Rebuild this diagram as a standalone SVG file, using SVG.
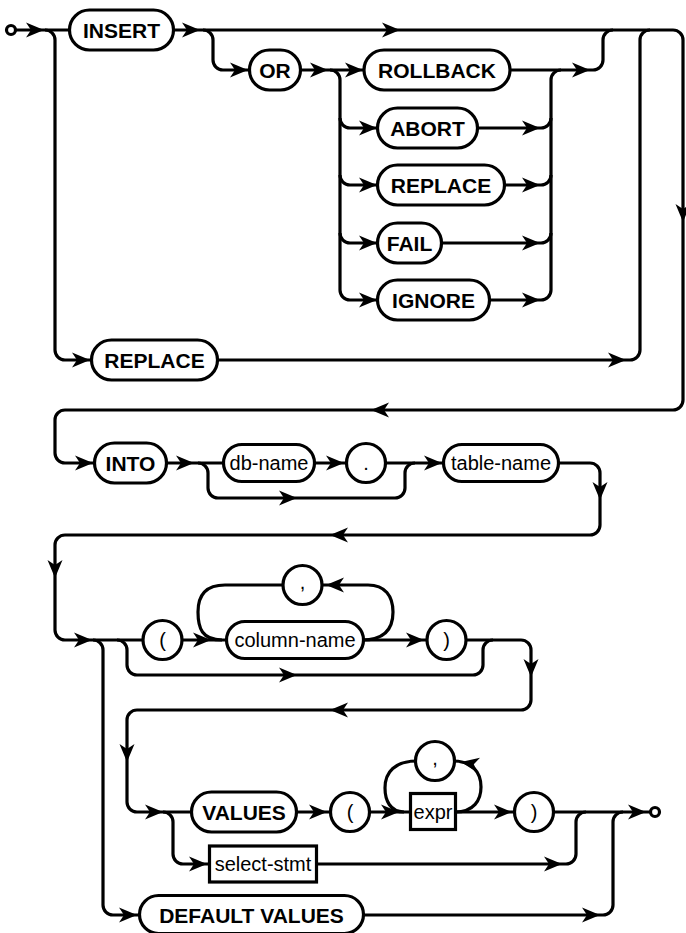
<svg xmlns="http://www.w3.org/2000/svg" xmlns:xlink="http://www.w3.org/1999/xlink" width="686" height="933" viewBox="0 0 686 933">
<style>
.l{fill:none;stroke:#000;stroke-width:3.2}
.n{fill:#fff;stroke:#000;stroke-width:3.2}
.k{font-family:"Liberation Sans",Arial,sans-serif;font-weight:bold;font-size:21px;text-anchor:middle;fill:#000}
.t{font-family:"Liberation Sans",Arial,sans-serif;font-size:20px;text-anchor:middle;fill:#000}
.a{fill:#000}
</style>
<defs>
<path id="ar" d="M0,0 L-18,-7.5 L-13,0 L-18,7.5 Z"/>
</defs>
<rect width="686" height="933" fill="#fff"/>
<g id="connectors">
<path class="l" d="M15,30 H69"/>
<path class="l" d="M45,30 A10,10 0 0 1 55,40 V350 A10,10 0 0 0 65,360 H91"/>
<path class="l" d="M175,30 H673 A10,10 0 0 1 683,40 V400 A10,10 0 0 1 673,410 H65 A10,10 0 0 0 55,420 V453 A10,10 0 0 0 65,463 H94"/>
<path class="l" d="M203,30 A10,10 0 0 1 213,40 V60 A10,10 0 0 0 223,70 H250"/>
<path class="l" d="M301,70 H364"/>
<path class="l" d="M330,70 A10,10 0 0 1 340,80 V290 A10,10 0 0 0 350,300 H378"/>
<path class="l" d="M340,118 A10,10 0 0 0 350,128 H378"/>
<path class="l" d="M340,175 A10,10 0 0 0 350,185 H378"/>
<path class="l" d="M340,233 A10,10 0 0 0 350,243 H378"/>
<path class="l" d="M510,70 H593 A10,10 0 0 0 603,60 V40 A10,10 0 0 1 613,30"/>
<path class="l" d="M561,70 A10,10 0 0 0 551,80 V290"/>
<path class="l" d="M477,128 H541 A10,10 0 0 0 551,118"/>
<path class="l" d="M504,185 H541 A10,10 0 0 0 551,175"/>
<path class="l" d="M441,243 H541 A10,10 0 0 0 551,233"/>
<path class="l" d="M489,300 H541 A10,10 0 0 0 551,290"/>
<path class="l" d="M650,30 A10,10 0 0 0 640,40 V350"/>
<path class="l" d="M218,360 H630 A10,10 0 0 0 640,350"/>
<path class="l" d="M166,463 H224"/>
<path class="l" d="M198,463 A10,10 0 0 1 208,473 V488 A10,10 0 0 0 218,498 H395 A10,10 0 0 0 405,488 V473 A10,10 0 0 1 415,463"/>
<path class="l" d="M314,463 H347"/>
<path class="l" d="M385,463 H444"/>
<path class="l" d="M558,463 H590 A10,10 0 0 1 600,473 V525 A10,10 0 0 1 590,535 H65 A10,10 0 0 0 55,545 V630 A10,10 0 0 0 65,640 H144"/>
<path class="l" d="M93,640 A10,10 0 0 1 103,650 V905 A10,10 0 0 0 113,915 H140"/>
<path class="l" d="M117,640 A10,10 0 0 1 127,650 V665 A10,10 0 0 0 137,675 H473 A10,10 0 0 0 483,665 V650 A10,10 0 0 1 493,640"/>
<path class="l" d="M181,640 H228"/>
<path class="l" d="M222,640 C202,640 198,628 198,612 C198,596 205,585 225,585 H284"/>
<path class="l" d="M362,640 C385,640 393,628 393,612 C393,596 385,585 368,585 H321"/>
<path class="l" d="M362,640 H428"/>
<path class="l" d="M465,640 H521 A10,10 0 0 1 531,650 V700 A10,10 0 0 1 521,710 H137 A10,10 0 0 0 127,720 V802 A10,10 0 0 0 137,812 H193"/>
<path class="l" d="M163,812 A10,10 0 0 1 173,822 V854 A10,10 0 0 0 183,864 H211"/>
<path class="l" d="M296,812 H332"/>
<path class="l" d="M368,812 H412"/>
<path class="l" d="M404,812 C390,812 385,800 385,788 C385,772 395,761 417,761"/>
<path class="l" d="M455,812 C474,812 481,800 481,787 C481,772 472,761 453,761"/>
<path class="l" d="M455,812 H516"/>
<path class="l" d="M552,812 H650"/>
<path class="l" d="M317,864 H566 A10,10 0 0 0 576,854 V822 A10,10 0 0 1 586,812"/>
<path class="l" d="M362,915 H603 A10,10 0 0 0 613,905 V822 A10,10 0 0 1 623,812"/>
<g class="a">
<use xlink:href="#ar" transform="translate(44,30)"/>
<use xlink:href="#ar" transform="translate(200,30)"/>
<use xlink:href="#ar" transform="translate(400,30)"/>
<use xlink:href="#ar" transform="translate(248,70)"/>
<use xlink:href="#ar" transform="translate(328,70)"/>
<use xlink:href="#ar" transform="translate(363,70)"/>
<use xlink:href="#ar" transform="translate(377,128)"/>
<use xlink:href="#ar" transform="translate(377,185)"/>
<use xlink:href="#ar" transform="translate(377,243)"/>
<use xlink:href="#ar" transform="translate(377,300)"/>
<use xlink:href="#ar" transform="translate(590,70)"/>
<use xlink:href="#ar" transform="translate(540,128)"/>
<use xlink:href="#ar" transform="translate(540,185)"/>
<use xlink:href="#ar" transform="translate(540,243)"/>
<use xlink:href="#ar" transform="translate(540,300)"/>
<use xlink:href="#ar" transform="translate(90,360)"/>
<use xlink:href="#ar" transform="translate(626,360)"/>
<use xlink:href="#ar" transform="translate(683,222) rotate(90)"/>
<use xlink:href="#ar" transform="translate(371,410) rotate(180)"/>
<use xlink:href="#ar" transform="translate(93,463)"/>
<use xlink:href="#ar" transform="translate(194,463)"/>
<use xlink:href="#ar" transform="translate(344,463)"/>
<use xlink:href="#ar" transform="translate(297,498)"/>
<use xlink:href="#ar" transform="translate(442,463)"/>
<use xlink:href="#ar" transform="translate(600,500) rotate(90)"/>
<use xlink:href="#ar" transform="translate(330,535) rotate(180)"/>
<use xlink:href="#ar" transform="translate(55,578) rotate(90)"/>
<use xlink:href="#ar" transform="translate(92,640)"/>
<use xlink:href="#ar" transform="translate(211,640)"/>
<use xlink:href="#ar" transform="translate(326,585) rotate(180)"/>
<use xlink:href="#ar" transform="translate(424,640)"/>
<use xlink:href="#ar" transform="translate(297,675)"/>
<use xlink:href="#ar" transform="translate(531,677) rotate(90)"/>
<use xlink:href="#ar" transform="translate(330,710) rotate(180)"/>
<use xlink:href="#ar" transform="translate(127,762) rotate(90)"/>
<use xlink:href="#ar" transform="translate(163,812)"/>
<use xlink:href="#ar" transform="translate(207,864)"/>
<use xlink:href="#ar" transform="translate(137,915)"/>
<use xlink:href="#ar" transform="translate(327,812)"/>
<use xlink:href="#ar" transform="translate(399,812)"/>
<use xlink:href="#ar" transform="translate(461,762) rotate(190)"/>
<use xlink:href="#ar" transform="translate(512,812)"/>
<use xlink:href="#ar" transform="translate(646,812)"/>
<use xlink:href="#ar" transform="translate(562,864)"/>
<use xlink:href="#ar" transform="translate(600,915)"/>
</g>
</g>
<g id="start"><circle class="n" cx="11" cy="30" r="4.5"/></g>
<g id="end"><circle class="n" cx="655" cy="812" r="4.5"/></g>
<g id="insert"><rect class="n" x="69.5" y="10" width="104" height="40" rx="20"/><text class="k" x="121.5" y="37.5">INSERT</text></g>
<g id="or"><rect class="n" x="249.5" y="50" width="51" height="40" rx="20"/><text class="k" x="275" y="77.5">OR</text></g>
<g id="rollback"><rect class="n" x="364" y="50" width="146" height="40" rx="20"/><text class="k" x="437" y="77.5">ROLLBACK</text></g>
<g id="abort"><rect class="n" x="377.5" y="108" width="100" height="40" rx="20"/><text class="k" x="427.5" y="135.5">ABORT</text></g>
<g id="replace1"><rect class="n" x="377.5" y="165" width="127" height="40" rx="20"/><text class="k" x="441" y="192.5">REPLACE</text></g>
<g id="fail"><rect class="n" x="377.5" y="223" width="64" height="40" rx="20"/><text class="k" x="409.5" y="250.5">FAIL</text></g>
<g id="ignore"><rect class="n" x="377.5" y="280" width="112" height="40" rx="20"/><text class="k" x="433.5" y="307.5">IGNORE</text></g>
<g id="replace2"><rect class="n" x="91.5" y="340" width="126" height="40" rx="20"/><text class="k" x="154.5" y="367.5">REPLACE</text></g>
<g id="into"><rect class="n" x="94.5" y="443" width="72" height="40" rx="20"/><text class="k" x="130.5" y="470.5">INTO</text></g>
<g id="db-name"><rect class="n" x="223.5" y="444.5" width="91" height="37" rx="18.5"/><text class="t" x="269" y="470">db-name</text></g>
<g id="dot"><circle class="n" cx="366" cy="463" r="19.5"/><text class="t" x="366" y="470">.</text></g>
<g id="table-name"><rect class="n" x="443.5" y="444.5" width="115" height="37" rx="18.5"/><text class="t" x="501" y="470">table-name</text></g>
<g id="lparen1"><circle class="n" cx="162.5" cy="640" r="19.5"/><text class="t" x="162.5" y="647">(</text></g>
<g id="column-name"><rect class="n" x="226.5" y="621.5" width="137" height="37" rx="18.5"/><text class="t" x="295" y="647">column-name</text></g>
<g id="comma1"><circle class="n" cx="302.5" cy="585" r="19.5"/><text class="t" x="302.5" y="589">,</text></g>
<g id="rparen1"><circle class="n" cx="446.5" cy="640" r="19.5"/><text class="t" x="446.5" y="647">)</text></g>
<g id="values"><rect class="n" x="191.5" y="792" width="105" height="40" rx="20"/><text class="k" x="244" y="819.5">VALUES</text></g>
<g id="lparen2"><circle class="n" cx="350" cy="812" r="19.5"/><text class="t" x="350" y="819">(</text></g>
<g id="comma2"><circle class="n" cx="435" cy="761" r="19.5"/><text class="t" x="435" y="765">,</text></g>
<g id="expr"><rect class="n" x="410.5" y="793.5" width="45" height="36"/><text class="t" x="433" y="819">expr</text></g>
<g id="rparen2"><circle class="n" cx="534" cy="812" r="19.5"/><text class="t" x="534" y="819">)</text></g>
<g id="select-stmt"><rect class="n" x="209.5" y="846" width="107" height="36"/><text class="t" x="263" y="871">select-stmt</text></g>
<g id="default-values"><rect class="n" x="139.5" y="895.5" width="224" height="38" rx="19"/><text class="k" x="251.5" y="922.5">DEFAULT VALUES</text></g>
</svg>
